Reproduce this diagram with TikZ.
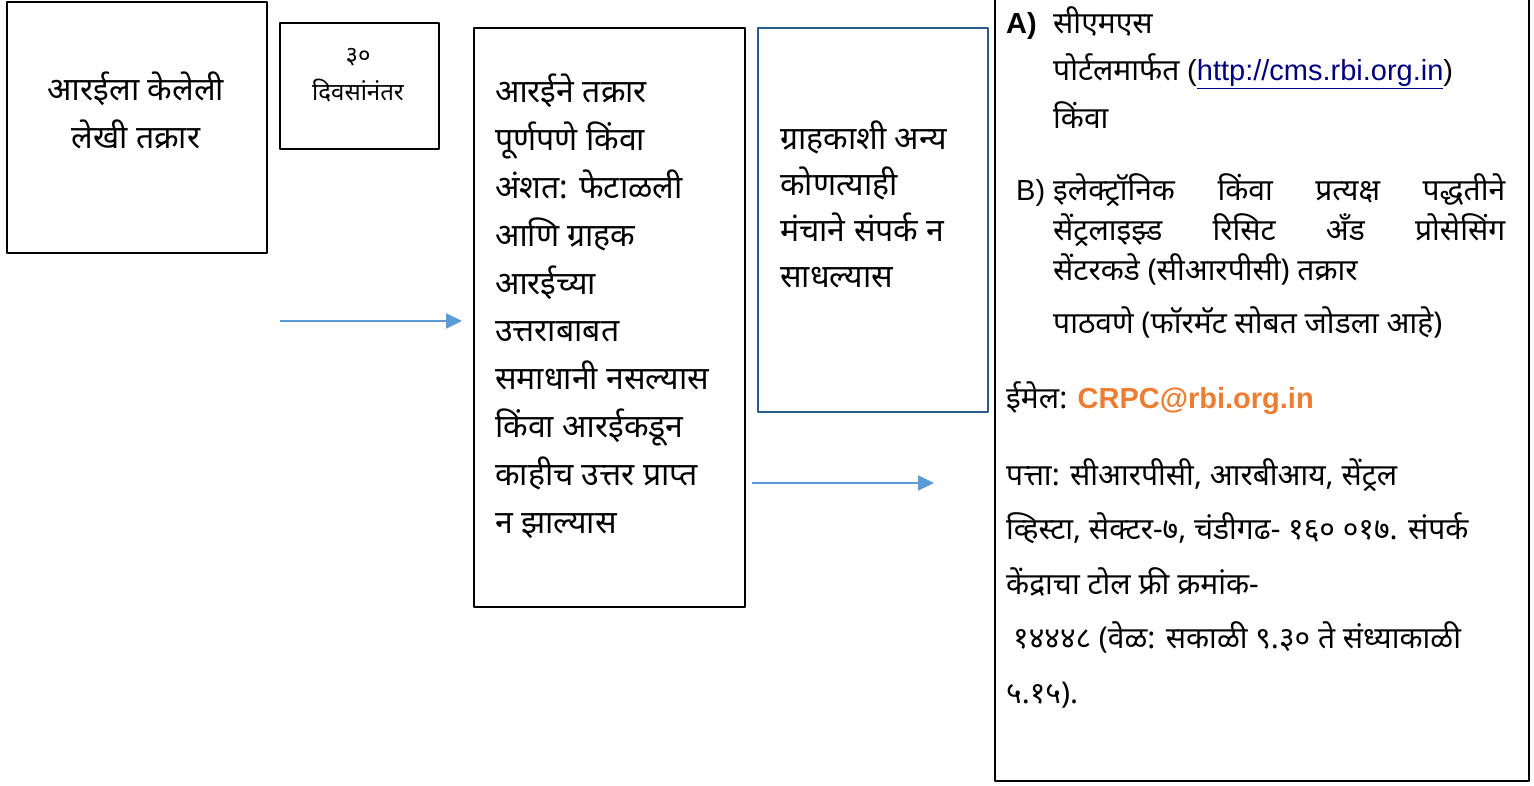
\documentclass[tikz,border=0pt]{standalone}
\usepackage{fontspec}
\setmainfont[Script=Devanagari]{Noto Sans}
\newfontfamily\latin{Liberation Sans}
\usetikzlibrary{arrows.meta,positioning}
\definecolor{arrowblue}{HTML}{5B9BD5}
\definecolor{framesteel}{HTML}{2E5A88}
\definecolor{linknavy}{HTML}{000080}
\definecolor{mailorange}{HTML}{ED7D31}
\newcommand\latinbig{\latin\fontsize{29}{47.5}\selectfont}

\begin{document}
\begin{tikzpicture}[x=1pt, y=-1pt, line join=round,
		box/.style={draw, line width=2.2pt, inner sep=0pt, anchor=north west},
		txt/.style={anchor=base west, align=left, inner sep=0pt, font=\fontsize{32}{47.5}\selectfont},
		side/.style={txt, font=\fontsize{30}{47.5}\selectfont},
		arr/.style={-{Triangle[length=16pt,width=15pt]}, line width=2.2pt, arrowblue}]
		\clip (0,0) rectangle (1534,785);
		% boxes
		\node[box, minimum width=260, minimum height=251] (b1) at (6,1) {};
		\node[box, minimum width=159, minimum height=126] (b2) at (279,22) {};
		\node[box, minimum width=271, minimum height=579] (b3) at (473,27) {};
		\node[box, draw=framesteel, minimum width=230, minimum height=384] (b4) at (757,27) {};
		\node[box, minimum width=534, minimum height=800] (b5) at (994,-20) {};
		% texts (base = last line)
		\node[txt, anchor=base, align=center, font=\fontsize{32}{48}\selectfont] (t1) at (136,148) {आरईला केलेली\\लेखी तक्रार};
		\node[txt, anchor=base, align=center, font=\fontsize{24}{37}\selectfont] (t2) at (358,100) {३०\\दिवसांनंतर};
		\node[txt, font=\fontsize{32}{47.8}\selectfont] (t3) at (495,533) {आरईने तक्रार\\पूर्णपणे किंवा\\अंशत: फेटाळली\\आणि ग्राहक\\आरईच्या\\उत्तराबाबत\\समाधानी नसल्यास\\किंवा आरईकडून\\काहीच उत्तर प्राप्त\\न झाल्यास};
		\node[txt, font=\fontsize{32}{46}\selectfont] (t4) at (780,287) {ग्राहकाशी अन्य\\कोणत्याही\\मंचाने संपर्क न\\साधल्यास};
		\node[txt, font=\latin\bfseries\fontsize{29}{47.5}\selectfont] (la) at (1006,33) {A)};
		\node[side] (ta) at (1053,128) {सीएमएस\\पोर्टलमार्फत {\latinbig(\textcolor{linknavy}{\underline{http://cms.rbi.org.in}})}\\किंवा};
		\node[txt, font=\latinbig] (lb) at (1016,200) {B)};
		\node[side, font=\fontsize{30}{40}\selectfont] (tb) at (1053,333) {\hbox to 452pt{इलेक्ट्रॉनिक\hfill किंवा\hfill प्रत्यक्ष\hfill पद्धतीने}\\\hbox to 452pt{सेंट्रलाइझ्ड\hfill रिसिट\hfill अँड\hfill प्रोसेसिंग}\\सेंटरकडे (सीआरपीसी) तक्रार\\[13pt]पाठवणे (फॉरमॅट सोबत जोडला आहे)};
		\node[side] (tm) at (1006,408) {ईमेल: {\latinbig\bfseries\color{mailorange}CRPC@rbi.org.in}};
		\node[side, font=\fontsize{30}{54.5}\selectfont] (tp) at (1006,703) {पत्ता: सीआरपीसी, आरबीआय, सेंट्रल\\व्हिस्टा, सेक्टर-७, चंडीगढ- १६० ०१७. संपर्क\\केंद्राचा टोल फ्री क्रमांक-\\\hspace*{7pt}१४४४८ (वेळ: सकाळी ९.३० ते संध्याकाळी\\५.१५).};
		% arrows
		\coordinate (a1) at (280,321);
		\coordinate (a1e) at (462,321);
		\coordinate (a2) at (752,483);
		\coordinate (a2e) at (934,483);
		\draw[arr] (a1) -- (a1e);
		\draw[arr] (a2) -- (a2e);
\end{tikzpicture}
\end{document}
